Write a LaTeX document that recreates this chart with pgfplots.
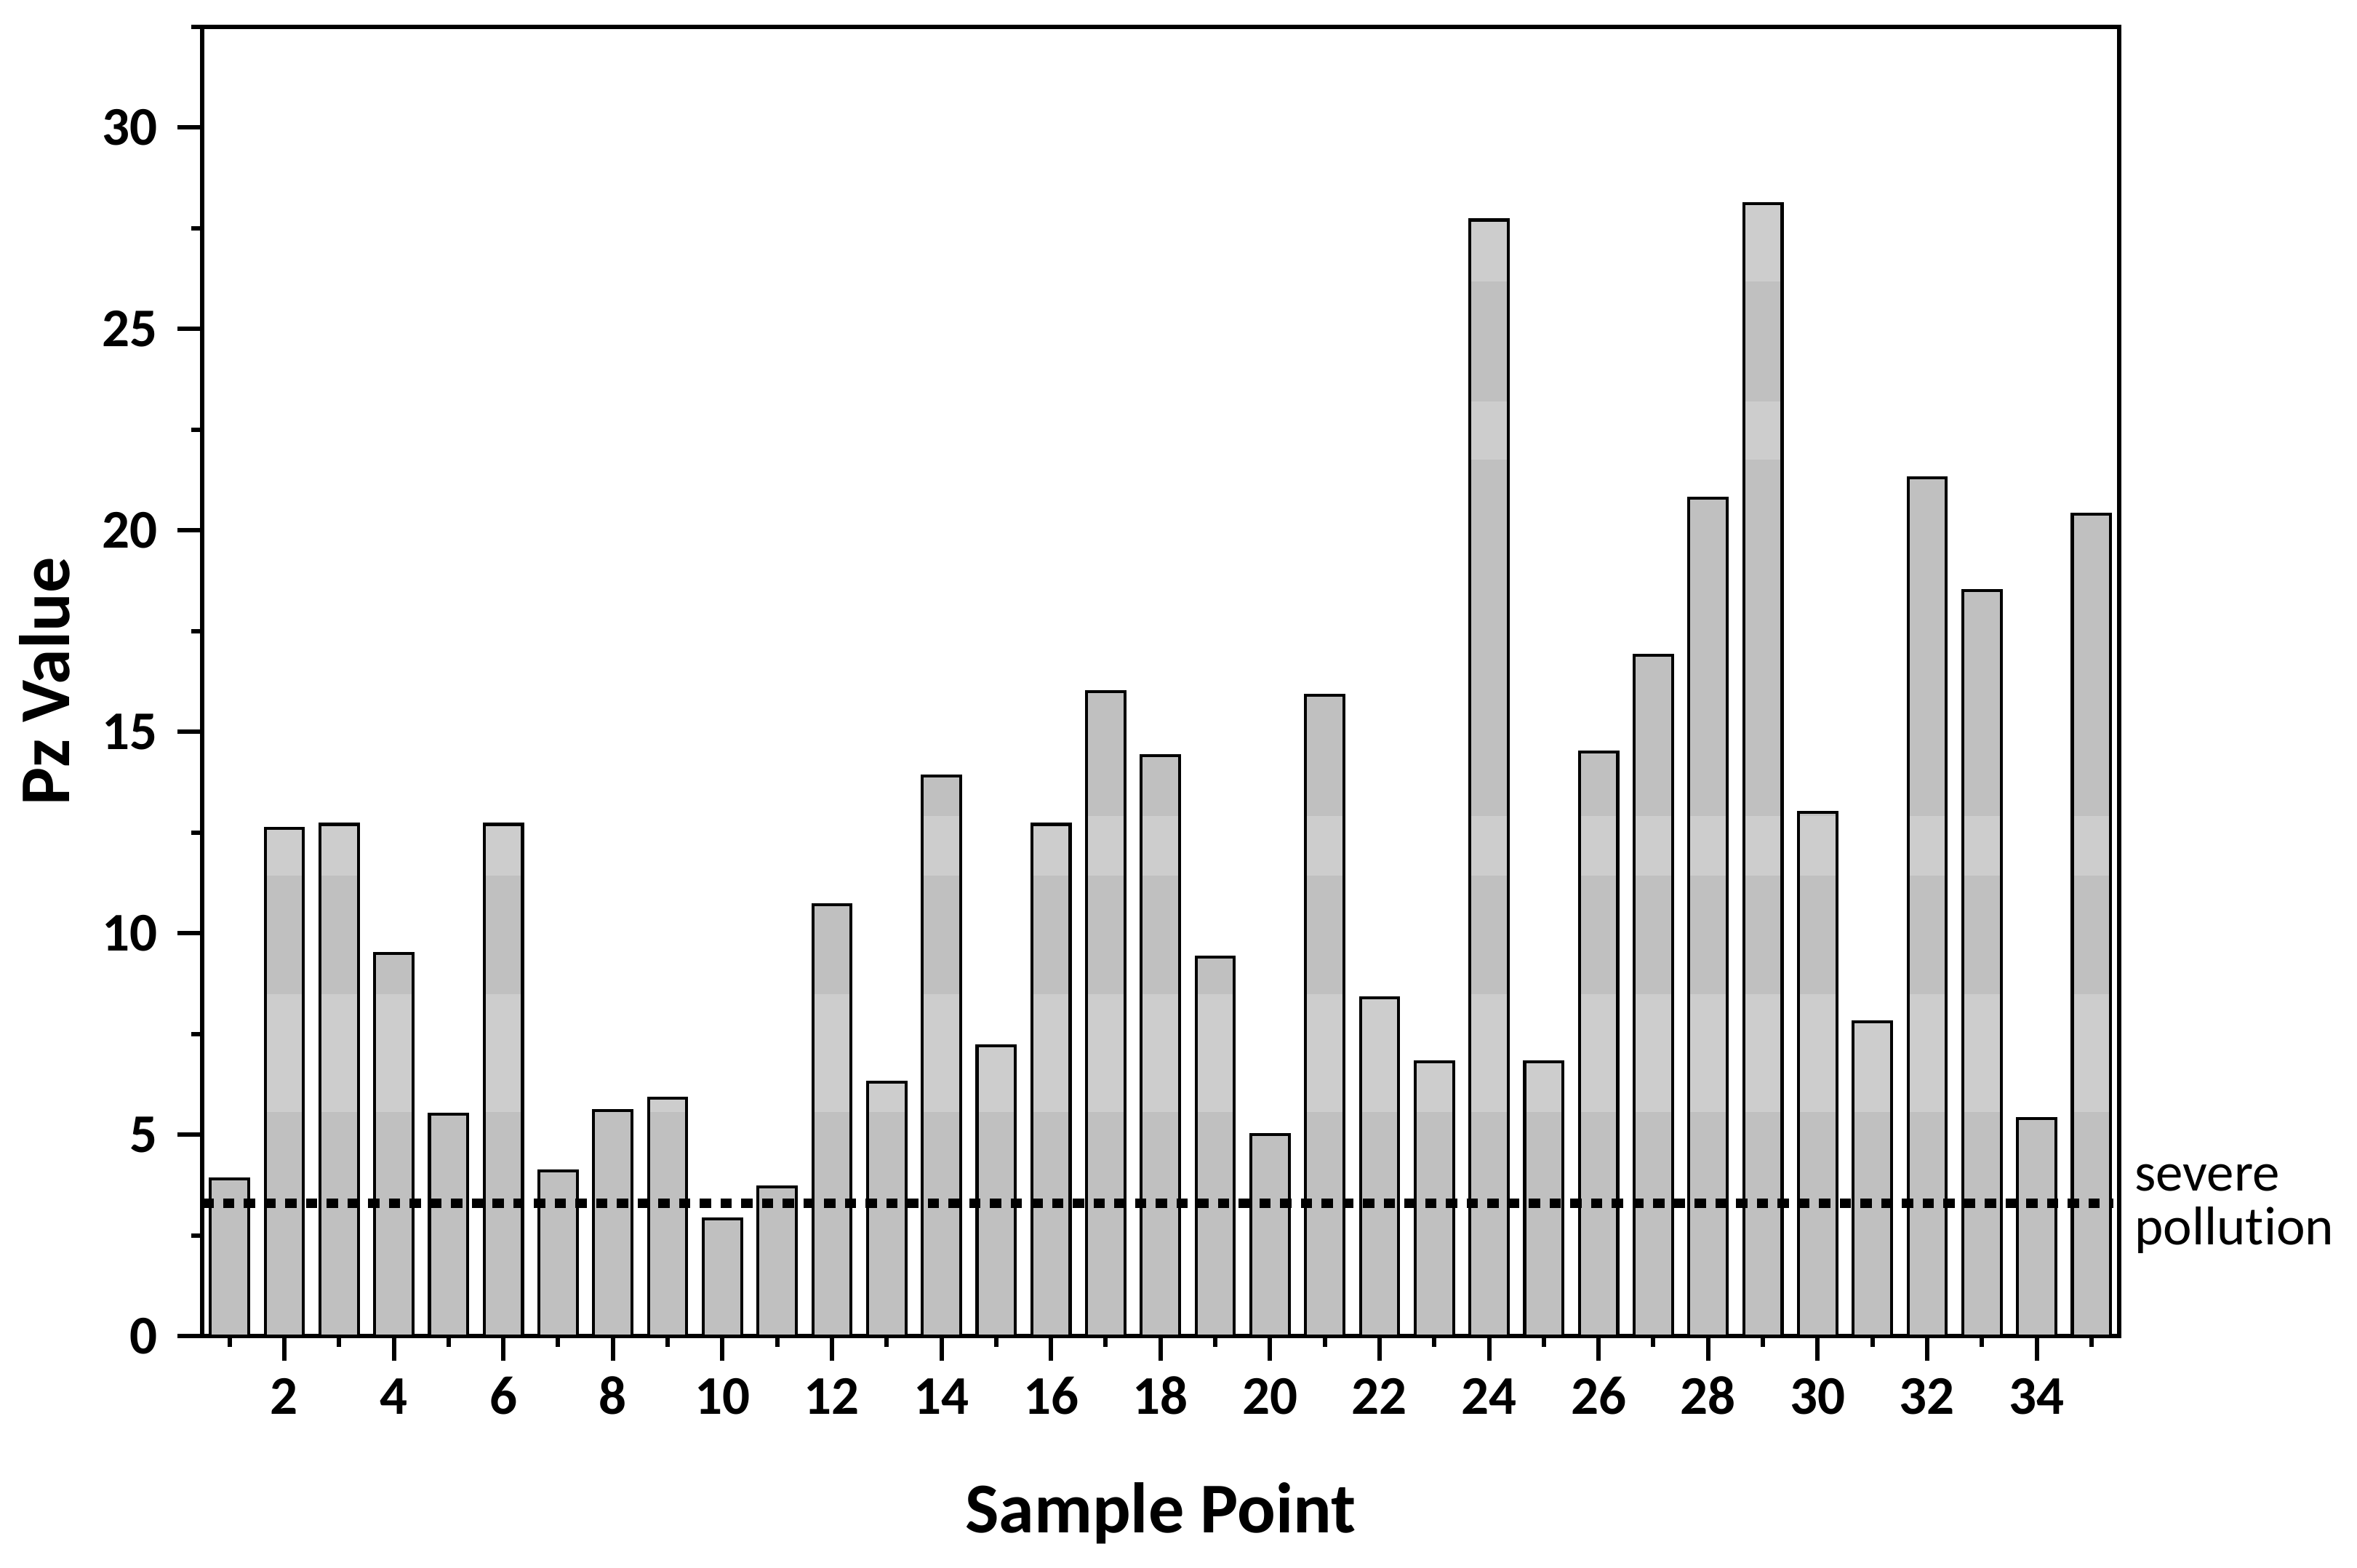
\documentclass[border=0pt]{standalone}
\usepackage{pgfplots}
\pgfplotsset{compat=1.18}
\usepackage{fontspec}
\setmainfont{Carlito}[Ligatures=CommonOff]
\definecolor{bardark}{RGB}{192,192,192}
\definecolor{barlight}{RGB}{205,205,205}
% one lighter band across the bars (basic layer, so no tikz options are re-applied)
\newcommand\band[2]{%
  \pgfpathrectanglecorners{\pgfplotspointaxisxy{0}{#1}}{\pgfplotspointaxisxy{36}{#2}}%
  \pgfusepath{fill}}
\begin{document}
\begin{tikzpicture}
\path[use as bounding box] (-37.07pt,-42.4pt) rectangle (395.06pt,244.94pt);
\begin{axis}[
  at={(0,0)}, anchor=south west,
  scale only axis,
  width=351.4pt, height=240.07pt,
  xmin=0.5, xmax=35.5,
  ymin=0, ymax=32.5,
  xtick={2,4,...,34},
  minor xtick={1,3,...,35},
  ytick={0,5,...,30},
  minor ytick={2.5,7.5,...,32.5},
  tick align=outside,
  xtick pos=lower, ytick pos=left,
  major tick length=4.5pt, minor tick length=2pt,
  tick style={black, line width=0.8pt},
  axis line style={line width=0.8pt},
  clip=false,
  /pgf/number format/assume math mode=true,
  ticklabel style={font=\fontsize{10}{12}\selectfont\bfseries, inner sep=0pt},
  xticklabel style={text height=6.4pt, text depth=0pt, yshift=-3.2pt},
  yticklabel style={xshift=-3.5pt},
  xlabel={Sample Point},
  ylabel={Pz Value},
  every axis x label/.style={at={(axis description cs:0.5,-0.15)}, anchor=base,
    font=\fontsize{13.1}{16}\selectfont\bfseries},
  every axis y label/.style={at={(axis description cs:-0.0692,0.5)}, anchor=base, rotate=90,
    font=\fontsize{13.1}{16}\selectfont\bfseries},
]
% bars, with the lighter bands of the original gradient fill
\addplot[ybar, bar width=0.7, fill=bardark, draw=black, line width=0.55pt,
  path picture={%
    \pgfsetfillcolor{barlight}%
    \band{5.56}{8.48}\band{11.43}{12.9}\band{21.76}{23.2}\band{26.17}{32.5}%
  }] coordinates {
  (1,3.9) (2,12.6) (3,12.7) (4,9.5) (5,5.5) (6,12.7) (7,4.1) (8,5.6) (9,5.9)
  (10,2.9) (11,3.7) (12,10.7) (13,6.3) (14,13.9) (15,7.2) (16,12.7) (17,16.0)
  (18,14.4) (19,9.4) (20,5.0) (21,15.9) (22,8.4) (23,6.8) (24,27.7) (25,6.8)
  (26,14.5) (27,16.9) (28,20.8) (29,28.1) (30,13.0) (31,7.8) (32,21.3)
  (33,18.5) (34,5.4) (35,20.4)
};
% threshold of severe pollution
\addplot[black, line width=1.75pt, dash pattern=on 2.1pt off 1.7pt]
  coordinates {(0.5,3.3) (35.4,3.3)};
\node[anchor=base west, inner sep=0pt, xshift=2.7pt, font=\fontsize{10}{12}\selectfont]
  at (axis cs:35.5,3.61) {severe};
\node[anchor=base west, inner sep=0pt, xshift=2.7pt, font=\fontsize{10}{12}\selectfont]
  at (axis cs:35.5,2.26) {pollution};
\end{axis}
\end{tikzpicture}
\end{document}
